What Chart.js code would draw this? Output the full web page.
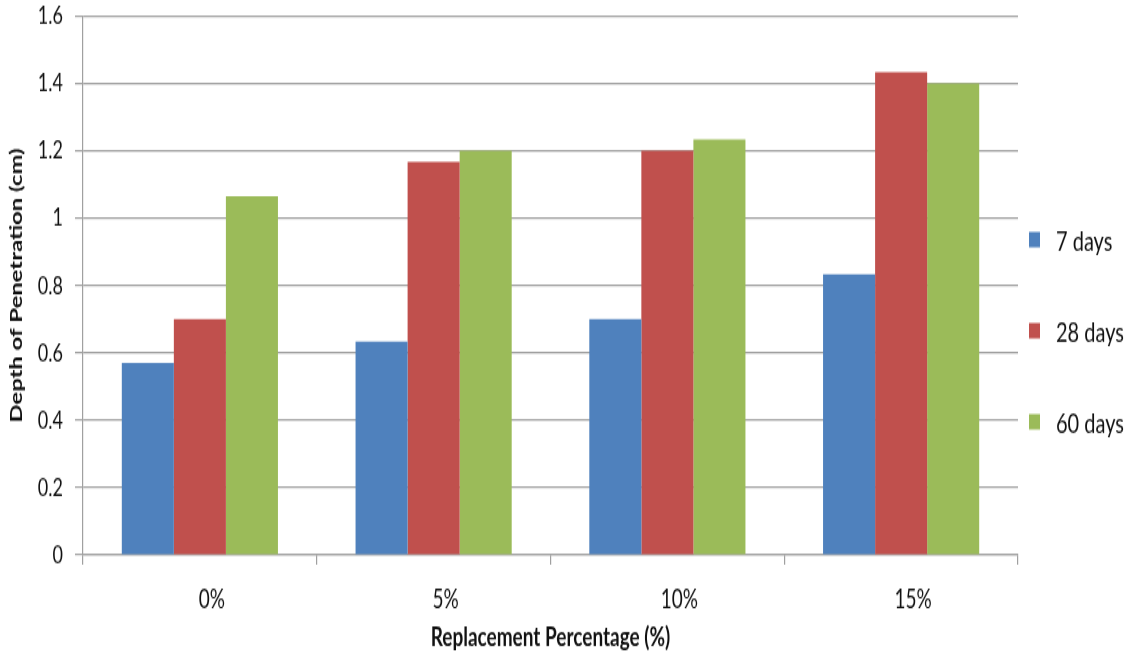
<!DOCTYPE html>
<html>
<head>
<meta charset="utf-8">
<script src="https://cdn.jsdelivr.net/npm/chart.js@4/dist/chart.umd.min.js"></script>
<style>
  html, body { margin: 0; padding: 0; background: #fff; }
  body { width: 1147px; height: 653px; overflow: visible; }
  #wrap { width: 1147px; height: 466px; transform-origin: 0 0; transform: scaleY(1.4013); }
  #chart { display: block; }
</style>
</head>
<body>
<div id="wrap"><canvas id="chart" width="1147" height="466" style="width:1147px;height:466px"></canvas></div>
<script>
// Replacement levels on the x axis
const categories = ['0%', '5%', '10%', '15%'];

// Depth of penetration (cm) at each curing age
const days7  = [0.57, 0.633, 0.70, 0.833];
const days28 = [0.70, 1.167, 1.20, 1.433];
const days60 = [1.065, 1.20, 1.233, 1.40];

const seriesNames = ['7 days', '28 days', '60 days'];
const yTicks = { min: 0, max: 1.6, step: 0.2 };

const FONT = 'Lato, "Open Sans", sans-serif';
const GRID = '#a0a0a0';

// Legend drawn to the right of the plot, items stacked around the vertical middle
const sideLegend = {
  id: 'sideLegend',
  afterDraw(chart) {
    const ctx = chart.ctx;
    const area = chart.chartArea;
    const sets = chart.data.datasets;
    const gap = 65;
    const mid = chart.height / 2 + 3;
    const x0 = area.right + 11;
    ctx.save();
    ctx.font = '20px ' + FONT;
    ctx.textBaseline = 'middle';
    ctx.textAlign = 'left';
    sets.forEach((ds, i) => {
      const cy = mid + (i - (sets.length - 1) / 2) * gap;
      ctx.fillStyle = ds.backgroundColor;
      ctx.fillRect(x0, cy - 5.5, 11, 11);
      ctx.fillStyle = '#111';
      ctx.fillText(ds.label, x0 + 27, cy + 2);
    });
    ctx.restore();
  }
};

new Chart(document.getElementById('chart'), {
  type: 'bar',
  data: {
    labels: categories,
    datasets: [
      { label: seriesNames[0], data: days7,  backgroundColor: '#4F81BD' },
      { label: seriesNames[1], data: days28, backgroundColor: '#C0504D' },
      { label: seriesNames[2], data: days60, backgroundColor: '#9BBB59' }
    ]
  },
  options: {
    responsive: false,
    animation: false,
    devicePixelRatio: 1,
    layout: { padding: { top: 11.4, right: 129, bottom: 0, left: 0 } },
    datasets: { bar: { categoryPercentage: 0.668, barPercentage: 1.0 } },
    plugins: { legend: { display: false }, tooltip: { enabled: false } },
    scales: {
      x: {
        grid: { display: true, drawOnChartArea: false, offset: true, color: GRID, lineWidth: 1.2, tickLength: 7 },
        border: { display: true, color: GRID, width: 1.2 },
        ticks: { color: '#111', font: { family: FONT, size: 19 }, padding: 13, maxRotation: 0, labelOffset: 12 },
        title: {
          display: true, text: 'Replacement Percentage (%)', color: '#111',
          font: { family: FONT, size: 19, weight: 'bold' }, padding: { top: 0, bottom: 0 }
        },
        afterFit(scale) { scale.height = 70; scale.paddingLeft = 0; scale.paddingRight = 0; }
      },
      y: {
        min: yTicks.min, max: yTicks.max,
        grid: { color: GRID, lineWidth: 1.2, tickLength: 8 },
        border: { display: true, color: GRID, width: 1.2 },
        ticks: {
          stepSize: yTicks.step, color: '#111', font: { family: FONT, size: 18 }, padding: 12,
          callback: (v) => String(Number(v.toFixed(1)))
        },
        title: {
          display: true, text: 'Depth of Penetration (cm)', color: '#111',
          font: { family: FONT, size: 17, weight: 'bold' }, padding: { top: 6, bottom: 0 }
        },
        afterFit(scale) { scale.width = 83; scale.paddingTop = 0; scale.paddingBottom = 0; }
      }
    }
  },
  plugins: [sideLegend]
});
</script>
</body>
</html>
